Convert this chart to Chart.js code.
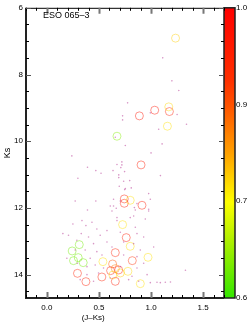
<!DOCTYPE html>
<html>
<head>
<meta charset="utf-8">
<script src="https://cdn.jsdelivr.net/npm/chart.js@4.4.1/dist/chart.umd.min.js"></script>
<style>
    html, body { margin: 0; padding: 0; background: #fff; }
    #wrap { width: 249px; height: 323px; }
</style>
</head>
<body>
<div id="wrap"><canvas id="cmd-chart"></canvas></div>
<script>
// field stars (small dots), (J-Ks) and Ks
const dotJK = [
    1.112, 1.2, 1.266, 0.775, 0.727, 0.657, 0.24, 0.39, 0.47, 0.52, 0.635, 0.69, 0.298, 0.72, 0.673,
    0.747, 0.272, 0.47, 0.39, 0.64, 0.705, 0.727, 0.993, 1.25, 1.34, 1.073, 0.753, 1.106, 1.0, 0.72,
    0.71, 0.746, 1.09, 0.737, 0.795, 0.695, 0.753, 0.81, 0.977, 0.993, 0.865, 0.64, 0.666, 0.84,
    0.977, 0.69, 0.25, 0.154, 0.337, 0.375, 0.433, 0.48, 0.33, 0.4, 0.288, 0.512, 0.577, 0.577,
    0.448, 0.368, 0.48, 0.529, 0.416, 0.192, 0.464, 0.385, 0.544, 0.496, 0.385, 0.32, 0.448, 0.609,
    0.294, 0.208, 0.673, 0.625, 0.272, 0.625, 0.673, 0.833, 0.849, 0.945, 0.977, 0.705, 0.865, 0.929,
    0.737, 0.833, 0.897, 1.025, 0.865, 0.737, 0.929, 0.705, 0.865, 0.817, 0.962, 1.33, 0.993, 1.057,
    1.137, 1.186, 1.089, 0.785, 0.881, 0.609, 0.8, 0.849,
];
const dotKs = [
    7.5, 8.19, 8.48, 8.85, 9.24, 9.88, 10.44, 10.78, 10.88, 10.96, 10.88, 11.01, 11.11, 10.71, 10.7,
    11.45, 11.79, 11.79, 12.06, 11.94, 11.79, 9.36, 9.15, 9.2, 9.49, 9.64, 10.13, 10.08, 10.35, 10.62,
    10.79, 10.91, 11.03, 11.2, 11.18, 11.35, 11.42, 11.4, 11.57, 11.74, 11.87, 11.74, 12.01, 11.99,
    12.04, 11.09, 12.48, 12.77, 12.38, 12.53, 12.43, 12.63, 12.77, 12.87, 12.97, 12.82, 12.68, 13.02,
    13.07, 13.26, 13.31, 13.41, 13.51, 13.51, 13.71, 13.76, 13.8, 13.95, 14.0, 14.15, 14.2, 14.1,
    13.66, 12.82, 12.38, 13.17, 13.26, 12.09, 12.29, 12.24, 12.06, 12.33, 12.09, 12.73, 12.77, 12.87,
    13.02, 13.07, 13.26, 13.17, 13.46, 13.41, 13.66, 13.76, 13.8, 14.05, 14.0, 13.87, 14.24, 14.23,
    14.23, 14.22, 14.24, 14.15, 14.2, 11.94, 12.29, 12.58,
];

// cluster members (open circles) and their membership value
const circleJK = [
    1.235, 1.035, 1.176, 1.17, 0.888, 1.157, 0.673, 0.904, 0.743, 0.743, 0.8, 0.913, 0.727, 0.762,
    0.8, 0.657, 0.971, 0.82, 0.538, 0.631, 0.612, 0.689, 0.657, 0.634, 0.705, 0.778, 0.657, 0.897,
    0.528, 0.311, 0.243, 0.301, 0.256, 0.349, 0.294, 0.375,
];
const circleKs = [
    6.91, 9.07, 9.11, 8.97, 9.24, 9.55, 9.85, 10.71, 11.73, 11.86, 11.77, 11.92, 12.5, 12.89,
    13.15, 13.34, 13.48, 13.58, 13.61, 13.68, 13.88, 13.86, 13.82, 14.01, 13.95, 13.9, 14.2, 14.27,
    14.07, 13.1, 13.29, 13.49, 13.58, 13.64, 13.96, 14.21,
];
const circleVal = [
    0.75, 0.97, 0.95, 0.74, 0.97, 0.73, 0.64, 0.96, 0.96, 0.96, 0.73, 0.96, 0.73, 0.96,
    0.73, 0.95, 0.73, 0.93, 0.73, 0.9, 0.95, 0.96, 0.85, 0.74, 0.76, 0.74, 0.96, 0.73,
    0.95, 0.63, 0.63, 0.63, 0.63, 0.63, 0.95, 0.95,
];

const xMajorTicks = [0.0, 0.5, 1.0, 1.5];
const yMajorTicks = [6, 8, 10, 12, 14];
const cbarTicks = [0.6, 0.7, 0.9, 1.0];

// colour bar stops, position measured from the top of the bar
const cbarStops = [
    [0.0, 255, 0, 0],
    [0.25, 255, 48, 0],
    [0.33, 255, 80, 0],
    [0.5, 255, 160, 0],
    [0.67, 255, 255, 0],
    [0.8, 176, 240, 0],
    [1.0, 51, 230, 0],
];

const fontFamily = "'Liberation Sans', Arial, sans-serif";

function cbarFraction(v) {
    // fraction from the bottom, ticks evenly spaced on the bar
    for (let i = 0; i < cbarTicks.length - 1; i++) {
        if (v <= cbarTicks[i + 1]) {
            const t = (v - cbarTicks[i]) / (cbarTicks[i + 1] - cbarTicks[i]);
            return (i + Math.max(0, t)) / (cbarTicks.length - 1);
        }
    }
    return 1;
}

function cbarColor(v, alpha) {
    const pos = 1 - cbarFraction(v);
    for (let i = 0; i < cbarStops.length - 1; i++) {
        const a = cbarStops[i];
        const b = cbarStops[i + 1];
        if (pos <= b[0]) {
            const t = (pos - a[0]) / (b[0] - a[0]);
            const c = [1, 2, 3].map((k) => Math.round(a[k] + (b[k] - a[k]) * t));
            return `rgba(${c[0]}, ${c[1]}, ${c[2]}, ${alpha})`;
        }
    }
    return `rgba(51, 230, 0, ${alpha})`;
}

const framePlugin = {
    id: 'frame',
    afterDatasetsDraw(chart) {
        const { ctx, chartArea: a, scales } = chart;
        const x = scales.x;
        const y = scales.y;
        ctx.save();

        // colour bar
        const barW = 11;
        const grad = ctx.createLinearGradient(0, a.top, 0, a.bottom);
        cbarStops.forEach((s) => grad.addColorStop(s[0], `rgb(${s[1]}, ${s[2]}, ${s[3]})`));
        ctx.fillStyle = grad;
        ctx.fillRect(a.right, a.top, barW, a.bottom - a.top);
        ctx.strokeStyle = '#222';
        ctx.lineWidth = 1.5;
        ctx.strokeRect(a.right, a.top, barW, a.bottom - a.top);

        // frame
        ctx.strokeStyle = '#000';
        ctx.lineWidth = 1;
        ctx.beginPath();
        ctx.moveTo(a.left, a.top + 0.5);
        ctx.lineTo(a.right, a.top + 0.5);
        ctx.stroke();
        ctx.strokeStyle = '#222';
        ctx.lineWidth = 2;
        ctx.beginPath();
        ctx.moveTo(a.left, a.top);
        ctx.lineTo(a.left, a.bottom);
        ctx.moveTo(a.left - 1, a.bottom);
        ctx.lineTo(a.right, a.bottom);
        ctx.stroke();

        // inward ticks on x
        for (let i = -2; i <= 17; i++) {
            const px = Math.round(x.getPixelForValue(i / 10)) + 0.5;
            const major = i % 5 === 0;
            const len = major ? 6 : 3;
            ctx.strokeStyle = major ? '#777' : '#000';
            ctx.lineWidth = major ? 2 : 1;
            ctx.beginPath();
            ctx.moveTo(px, a.bottom);
            ctx.lineTo(px, a.bottom - len);
            ctx.moveTo(px, a.top);
            ctx.lineTo(px, a.top + len);
            ctx.stroke();
        }

        // inward ticks on Ks
        for (let i = 12; i <= 29; i++) {
            const py = Math.round(y.getPixelForValue(i / 2)) + 0.5;
            const major = i % 4 === 0;
            const len = major ? 5 : 3;
            ctx.strokeStyle = major ? '#555' : '#000';
            ctx.lineWidth = 1;
            ctx.beginPath();
            ctx.moveTo(a.left, py);
            ctx.lineTo(a.left + len, py);
            ctx.moveTo(a.right, py);
            ctx.lineTo(a.right - len, py);
            ctx.stroke();
        }

        // texts
        ctx.fillStyle = '#000';
        ctx.font = `9px ${fontFamily}`;
        ctx.textAlign = 'left';
        ctx.textBaseline = 'middle';
        ctx.fillText('ESO 065\u20133', 43, 16);

        ctx.font = `8px ${fontFamily}`;
        ctx.textAlign = 'center';
        ctx.fillText('(J\u2013Ks)', x.getPixelForValue(0.445), 318);

        ctx.font = `9px ${fontFamily}`;
        ctx.translate(8, (a.top + a.bottom) / 2);
        ctx.rotate(-Math.PI / 2);
        ctx.fillText('Ks', 0, 0);
        ctx.restore();
    },
};

function toPoints(xs, ys) {
    return xs.map((v, i) => ({ x: v, y: ys[i] }));
}

const tickFont = { family: fontFamily, size: 8 };

new Chart(document.getElementById('cmd-chart'), {
    type: 'scatter',
    data: {
        datasets: [
            {
                label: 'field',
                data: toPoints(dotJK, dotKs),
                pointRadius: 0.8,
                pointBorderWidth: 0,
                backgroundColor: 'rgba(190, 80, 160, 0.6)',
            },
            {
                label: 'members',
                data: toPoints(circleJK, circleKs),
                pointRadius: 4,
                borderWidth: 1,
                backgroundColor: 'rgba(0, 0, 0, 0)',
                borderColor: circleVal.map((v) => cbarColor(v, 0.45)),
            },
        ],
    },
    options: {
        responsive: true,
        maintainAspectRatio: false,
        animation: false,
        layout: { padding: { top: 3, left: 0, right: 0, bottom: 0 } },
        plugins: {
            legend: { display: false },
            tooltip: { enabled: false },
        },
        scales: {
            x: {
                type: 'linear',
                position: 'bottom',
                min: -0.2,
                max: 1.7,
                grid: { display: false, drawTicks: false },
                border: { display: false },
                afterBuildTicks: (s) => { s.ticks = xMajorTicks.map((v) => ({ value: v })); },
                afterFit: (s) => { s.height = 25; },
                ticks: {
                    font: tickFont,
                    color: '#000',
                    padding: 5,
                    maxRotation: 0,
                    callback: (v) => Number(v).toFixed(1),
                },
            },
            y: {
                type: 'linear',
                position: 'left',
                reverse: true,
                min: 6,
                max: 14.7,
                grid: { display: false, drawTicks: false },
                border: { display: false },
                afterBuildTicks: (s) => { s.ticks = yMajorTicks.map((v) => ({ value: v })); },
                afterFit: (s) => { s.width = 26; },
                ticks: {
                    font: tickFont,
                    color: '#000',
                    padding: 3,
                    callback: (v) => String(v),
                },
            },
            cbar: {
                type: 'linear',
                position: 'right',
                min: 0,
                max: cbarTicks.length - 1,
                grid: {
                    display: true,
                    drawOnChartArea: false,
                    drawTicks: true,
                    tickLength: 11,
                    color: 'rgba(0, 0, 0, 0)',
                },
                border: { display: false },
                afterBuildTicks: (s) => { s.ticks = cbarTicks.map((v, i) => ({ value: i })); },
                afterFit: (s) => { s.width = 25; },
                ticks: {
                    font: tickFont,
                    color: '#000',
                    padding: 1,
                    callback: (v) => cbarTicks[Math.round(v)].toFixed(1),
                },
            },
        },
    },
    plugins: [framePlugin],
});
</script>
</body>
</html>
